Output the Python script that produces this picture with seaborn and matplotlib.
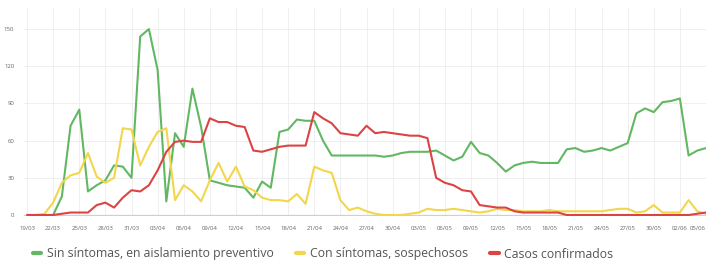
import numpy as np
import pandas as pd
import matplotlib
matplotlib.use("Agg")
import matplotlib.pyplot as plt
from matplotlib.lines import Line2D
import seaborn as sns

# ---- data (one value per day, from 19/03) ----
series_names = ["Sin síntomas, en aislamiento preventivo",
                "Con síntomas, sospechosos",
                "Casos confirmados"]
series_colors = ["#62b862", "#f2d64b", "#dc4444"]

sin_sintomas = [0, 0, 0, 0, 15, 72, 85, 19, 24, 28,
                40, 39, 30, 144, 150, 117, 11, 66, 55, 102,
                71, 28, 26, 24, 23, 22, 14, 27, 22, 67,
                69, 77, 76, 76, 60, 48, 48, 48, 48, 48,
                48, 47, 48, 50, 51, 51, 51, 52, 48, 44,
                47, 59, 50, 48, 42, 35, 40, 42, 43, 42,
                42, 42, 53, 54, 51, 52, 54, 52, 55, 58,
                82, 86, 83, 91, 92, 94, 48, 52, 54]
con_sintomas = [0, 0, 1, 10, 26, 32, 34, 50, 31, 26,
                30, 70, 69, 40, 55, 67, 70, 12, 24, 19,
                11, 28, 42, 27, 39, 23, 20, 14, 12, 12,
                11, 17, 9, 39, 36, 34, 12, 4, 6, 3,
                1, 0, 0, 0, 1, 2, 5, 4, 4, 5,
                4, 3, 2, 3, 5, 4, 4, 3, 3, 3,
                4, 3, 3, 3, 3, 3, 3, 4, 5, 5,
                2, 3, 8, 2, 2, 2, 12, 3, 1]
confirmados = [0, 0, 0, 0, 1, 2, 2, 2, 8, 10,
               6, 14, 20, 19, 24, 36, 51, 59, 60, 59,
               59, 78, 75, 75, 72, 71, 52, 51, 53, 55,
               56, 56, 56, 83, 78, 74, 66, 65, 64, 72,
               66, 67, 66, 65, 64, 64, 62, 30, 26, 24,
               20, 19, 8, 7, 6, 6, 3, 2, 2, 2,
               2, 2, 0, 0, 0, 0, 0, 0, 0, 0,
               0, 0, 0, 0, 0, 0, 0, 1, 2]

x_tick_labels = ["19/03", "22/03", "25/03", "28/03", "31/03", "03/04", "06/04",
                 "09/04", "12/04", "15/04", "18/04", "21/04", "24/04", "27/04",
                 "30/04", "03/05", "06/05", "09/05", "12/05", "15/05", "18/05",
                 "21/05", "24/05", "27/05", "30/05", "02/06", "05/06"]
y_ticks = [0, 30, 60, 90, 120, 150]

# ---- build long table ----
n = len(sin_sintomas)
days = list(range(n))
df = pd.DataFrame({
    "dia": days * 3,
    "valor": sin_sintomas + con_sintomas + confirmados,
    "serie": [series_names[0]] * n + [series_names[1]] * n + [series_names[2]] * n,
})

sns.set_theme(style="white")
plt.rcParams["font.family"] = ["Open Sans", "DejaVu Sans"]

W, H = 706, 272
fig = plt.figure(figsize=(W / 100, H / 100), dpi=100)
ax = fig.add_axes([24 / W, 1 - 216 / H, (W - 24) / W, (216 - 8) / H])

sns.lineplot(data=df, x="dia", y="valor", hue="serie", hue_order=series_names,
             palette=series_colors, linewidth=1.5, ax=ax, legend=False, zorder=3)

ax.set_xlim(-0.35, n - 1)
ax.set_ylim(-0.8, 167)
ax.set_xticks(days[::3])
ax.set_xticklabels(x_tick_labels)
ax.set_yticks(y_ticks)
ax.set_yticklabels([str(v) for v in y_ticks])
ax.set_xlabel("")
ax.set_ylabel("")
ax.grid(True, color="#ececec", linewidth=0.6, zorder=0)
ax.axhline(0, color="#cfcfcf", linewidth=0.9, zorder=1)
for s in ax.spines.values():
    s.set_visible(False)
ax.tick_params(axis="both", length=0, labelsize=4.3, colors="#666666")
ax.tick_params(axis="y", pad=7)
ax.tick_params(axis="x", pad=7)
xt = ax.get_xticklabels()
xt[-1].set_horizontalalignment("right")

handles = [Line2D([0], [0], color=c, linewidth=3) for c in series_colors]
fig.legend(handles, series_names, loc="center", bbox_to_anchor=(323 / W, 1 - 254 / H),
           ncol=3, frameon=False, fontsize=8.8, handlelength=0.7,
           handletextpad=0.45, columnspacing=1.8, labelcolor="#555555")

fig.savefig("out.png", dpi=100)
